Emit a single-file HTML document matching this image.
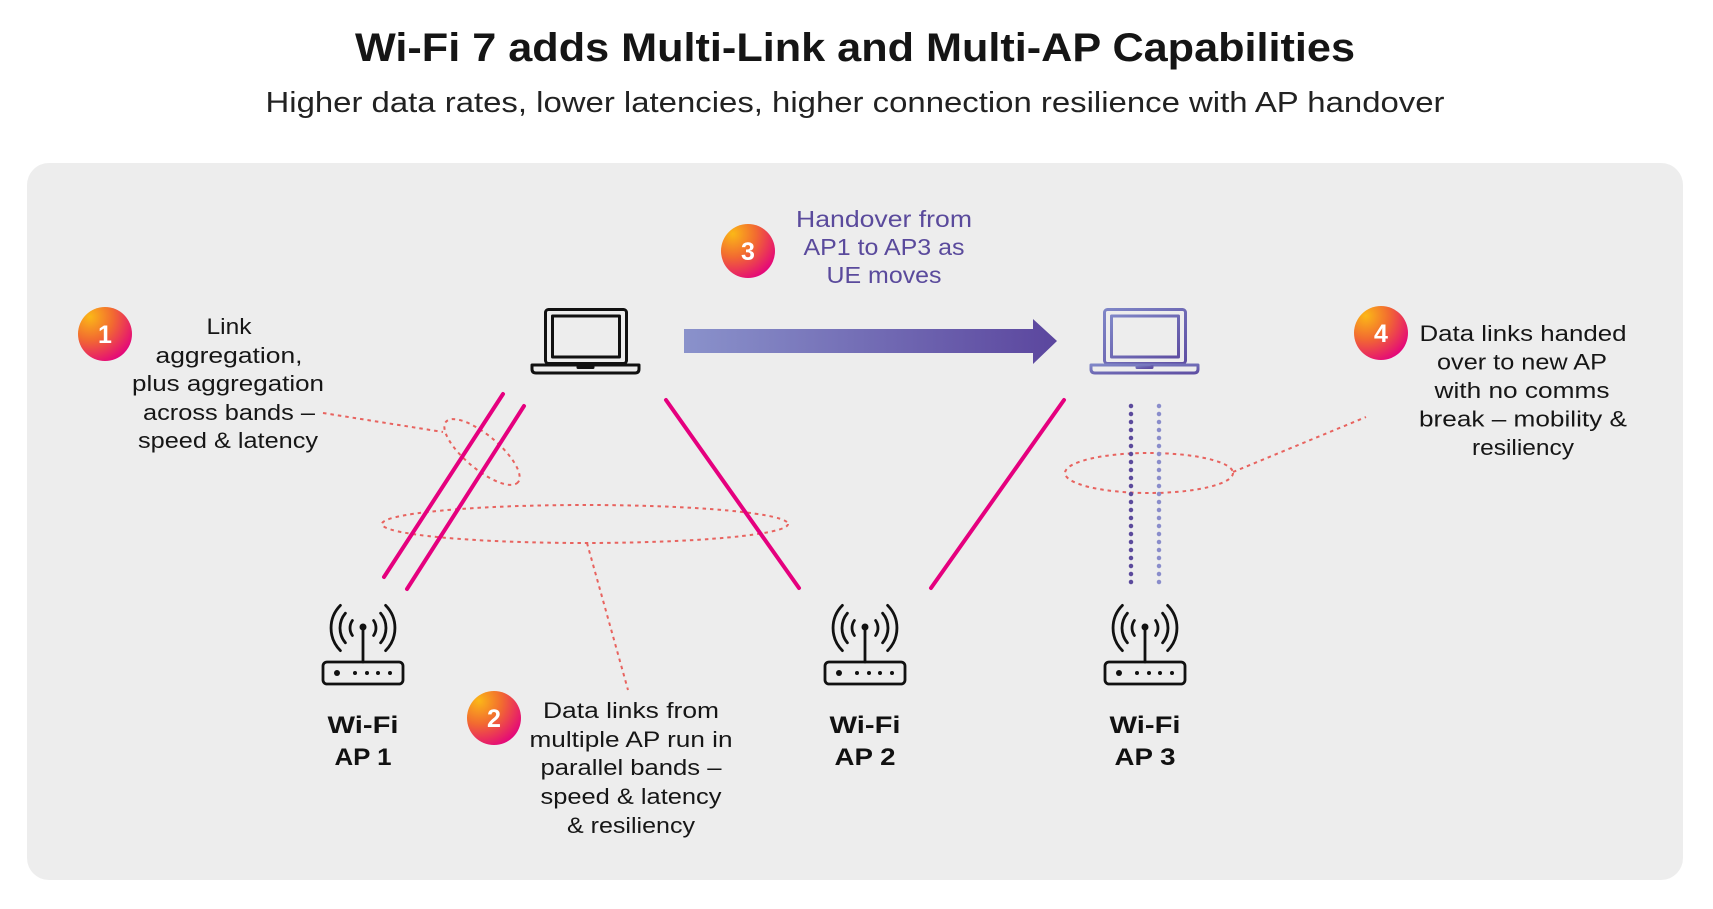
<!DOCTYPE html>
<html><head><meta charset="utf-8"><style>
html,body{margin:0;padding:0;background:#fff;}
svg{display:block;}
text{font-family:"Liberation Sans",Arial,sans-serif;}
</style></head><body>
<svg width="1713" height="909" viewBox="0 0 1713 909" xmlns="http://www.w3.org/2000/svg">
<defs>
<radialGradient id="cg" cx="0.22" cy="0.18" r="0.95">
<stop offset="0" stop-color="#fbb817"/>
<stop offset="0.45" stop-color="#f26b30"/>
<stop offset="1" stop-color="#e3007f"/>
</radialGradient>
<linearGradient id="ag" x1="0" y1="0" x2="1" y2="0">
<stop offset="0" stop-color="#8a92cb"/>
<stop offset="1" stop-color="#5b469e"/>
</linearGradient>
<linearGradient id="lg" x1="0" y1="0" x2="1" y2="1">
<stop offset="0" stop-color="#7f86c7"/>
<stop offset="1" stop-color="#5f4fa3"/>
</linearGradient>
</defs>
<rect width="1713" height="909" fill="#fff"/>
<rect x="27" y="163" width="1656" height="717" rx="22" fill="#ededed"/>

<text x="855" y="61" text-anchor="middle" font-size="40" font-weight="bold" fill="#151515" textLength="1000" lengthAdjust="spacingAndGlyphs">Wi-Fi 7 adds Multi-Link and Multi-AP Capabilities</text>
<text x="855" y="112" text-anchor="middle" font-size="29" fill="#222" textLength="1179" lengthAdjust="spacingAndGlyphs">Higher data rates, lower latencies, higher connection resilience with AP handover</text>

<!-- dotted red ellipses and leaders -->
<g fill="none" stroke="#e8635f" stroke-width="2" stroke-dasharray="3.5 4">
<ellipse cx="482" cy="452" rx="47" ry="17" transform="rotate(40 482 452)"/>
<ellipse cx="585" cy="524" rx="203" ry="19"/>
<ellipse cx="1149" cy="473" rx="84" ry="20"/>
<line x1="323" y1="413" x2="443" y2="432"/>
<line x1="587" y1="543" x2="628" y2="690"/>
<line x1="1233" y1="472" x2="1366" y2="417"/>
</g>

<!-- magenta links -->
<g stroke="#e5007e" stroke-width="4" stroke-linecap="round">
<line x1="503" y1="394" x2="384" y2="577"/>
<line x1="524" y1="406" x2="407" y2="589"/>
<line x1="666" y1="400" x2="799" y2="588"/>
<line x1="1064" y1="400" x2="931" y2="588"/>
</g>

<!-- purple dotted links -->
<line x1="1131" y1="406" x2="1131" y2="584" stroke="#5b4a9c" stroke-width="4.5" stroke-linecap="round" stroke-dasharray="0 8"/>
<line x1="1159" y1="406" x2="1159" y2="584" stroke="#8a8dcb" stroke-width="4.5" stroke-linecap="round" stroke-dasharray="0 8"/>

<!-- arrow -->
<path d="M684 329 H1033 V319 L1057 341 L1033 364 V353 H684 Z" fill="url(#ag)"/>

<!-- laptop 1 -->
<g fill="none" stroke="#111" stroke-width="3" stroke-linejoin="round">
<rect x="545.5" y="309.5" width="81" height="54" rx="3"/>
<rect x="552.5" y="316" width="67" height="41"/>
<path d="M532 365 H639 V369 Q639 373 635 373 H536 Q532 373 532 369 Z"/>
<path d="M578 365 V367.5 H593 V365"/>
</g>
<!-- laptop 2 -->
<g fill="none" stroke="url(#lg)" stroke-width="3" stroke-linejoin="round">
<rect x="1104.5" y="309.5" width="81" height="54" rx="3"/>
<rect x="1111.5" y="316" width="67" height="41"/>
<path d="M1091 365 H1198 V369 Q1198 373 1194 373 H1095 Q1091 373 1091 369 Z"/>
<path d="M1137 365 V367.5 H1152 V365"/>
</g>

<!-- AP icons -->
<g id="ap1" fill="none" stroke="#111" stroke-width="2.8" stroke-linecap="round">
<path d="M340.4 605.4 A32 32 0 0 0 340.4 650.6"/>
<path d="M345.4 613.2 A23 23 0 0 0 345.4 642.8"/>
<path d="M352.4 620.5 A13 13 0 0 0 352.4 635.5"/>
<path d="M385.6 605.4 A32 32 0 0 1 385.6 650.6"/>
<path d="M380.6 613.2 A23 23 0 0 1 380.6 642.8"/>
<path d="M373.6 620.5 A13 13 0 0 1 373.6 635.5"/>
<line x1="363" y1="628" x2="363" y2="662"/>
<rect x="323" y="662" width="80" height="22" rx="4"/>
</g>
<g fill="#111">
<circle cx="363" cy="627" r="3.5"/>
<circle cx="337" cy="673" r="3"/>
<circle cx="355" cy="673" r="2"/><circle cx="367" cy="673" r="2"/><circle cx="378" cy="673" r="2"/><circle cx="390" cy="673" r="2"/>
</g>
<use href="#ap1" x="502"/>
<g fill="#111" transform="translate(502 0)">
<circle cx="363" cy="627" r="3.5"/>
<circle cx="337" cy="673" r="3"/>
<circle cx="355" cy="673" r="2"/><circle cx="367" cy="673" r="2"/><circle cx="378" cy="673" r="2"/><circle cx="390" cy="673" r="2"/>
</g>
<use href="#ap1" x="782"/>
<g fill="#111" transform="translate(782 0)">
<circle cx="363" cy="627" r="3.5"/>
<circle cx="337" cy="673" r="3"/>
<circle cx="355" cy="673" r="2"/><circle cx="367" cy="673" r="2"/><circle cx="378" cy="673" r="2"/><circle cx="390" cy="673" r="2"/>
</g>

<!-- AP labels -->
<g font-size="24" font-weight="bold" fill="#111" text-anchor="middle">
<text x="363" y="733" textLength="71" lengthAdjust="spacingAndGlyphs">Wi-Fi</text>
<text x="363" y="765" textLength="57" lengthAdjust="spacingAndGlyphs">AP 1</text>
<text x="865" y="733" textLength="71" lengthAdjust="spacingAndGlyphs">Wi-Fi</text>
<text x="865" y="765" textLength="61" lengthAdjust="spacingAndGlyphs">AP 2</text>
<text x="1145" y="733" textLength="71" lengthAdjust="spacingAndGlyphs">Wi-Fi</text>
<text x="1145" y="765" textLength="61" lengthAdjust="spacingAndGlyphs">AP 3</text>
</g>

<!-- numbered circles -->
<g>
<circle cx="105" cy="334" r="27" fill="url(#cg)"/>
<circle cx="748" cy="251" r="27" fill="url(#cg)"/>
<circle cx="494" cy="718" r="27" fill="url(#cg)"/>
<circle cx="1381" cy="333" r="27" fill="url(#cg)"/>
</g>
<g font-size="25" font-weight="bold" fill="#fff" text-anchor="middle">
<text x="105" y="343">1</text>
<text x="748" y="260">3</text>
<text x="494" y="727">2</text>
<text x="1381" y="342">4</text>
</g>

<!-- text 1 -->
<g font-size="22" fill="#161616" text-anchor="middle">
<text x="229" y="334" textLength="45" lengthAdjust="spacingAndGlyphs">Link</text>
<text x="229" y="363" textLength="147" lengthAdjust="spacingAndGlyphs">aggregation,</text>
<text x="228" y="391" textLength="192" lengthAdjust="spacingAndGlyphs">plus aggregation</text>
<text x="229" y="420" textLength="172" lengthAdjust="spacingAndGlyphs">across bands –</text>
<text x="228" y="448" textLength="180" lengthAdjust="spacingAndGlyphs">speed &amp; latency</text>
</g>

<!-- text 3 -->
<g font-size="23" fill="#5a4a9c" text-anchor="middle">
<text x="884" y="227" textLength="176" lengthAdjust="spacingAndGlyphs">Handover from</text>
<text x="884" y="255" textLength="161" lengthAdjust="spacingAndGlyphs">AP1 to AP3 as</text>
<text x="884" y="283" textLength="115" lengthAdjust="spacingAndGlyphs">UE moves</text>
</g>

<!-- text 4 -->
<g font-size="22" fill="#161616" text-anchor="middle">
<text x="1523" y="341" textLength="207" lengthAdjust="spacingAndGlyphs">Data links handed</text>
<text x="1522" y="369.5" textLength="170" lengthAdjust="spacingAndGlyphs">over to new AP</text>
<text x="1522" y="398" textLength="175" lengthAdjust="spacingAndGlyphs">with no comms</text>
<text x="1523" y="426.5" textLength="208" lengthAdjust="spacingAndGlyphs">break – mobility &amp;</text>
<text x="1523" y="455" textLength="102" lengthAdjust="spacingAndGlyphs">resiliency</text>
</g>

<!-- text 2 -->
<g font-size="22" fill="#161616" text-anchor="middle">
<text x="631" y="718" textLength="176" lengthAdjust="spacingAndGlyphs">Data links from</text>
<text x="631" y="747" textLength="203" lengthAdjust="spacingAndGlyphs">multiple AP run in</text>
<text x="631" y="775" textLength="181" lengthAdjust="spacingAndGlyphs">parallel bands –</text>
<text x="631" y="804" textLength="181" lengthAdjust="spacingAndGlyphs">speed &amp; latency</text>
<text x="631" y="833" textLength="128" lengthAdjust="spacingAndGlyphs">&amp; resiliency</text>
</g>
</svg>
</body></html>
